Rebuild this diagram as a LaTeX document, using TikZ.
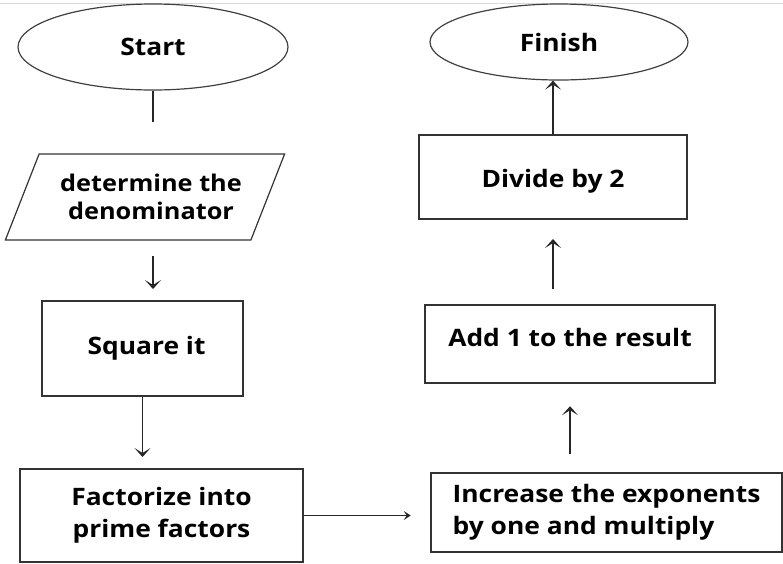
\documentclass[tikz,border=0pt]{standalone}
\usepackage{fontspec}
\setmainfont{Open Sans}[FakeStretch=1.1]
\usetikzlibrary{shapes.geometric,arrows.meta}
\tikzset{
	terminal/.style={ellipse, draw=black!75, line width=1.2pt},
	stepbox/.style={rectangle, draw=black!80, line width=2pt},
	inputbox/.style={trapezium, trapezium left angle=56, trapezium right angle=124, trapezium stretches=true, draw=black!80, line width=1.2pt},
	flow/.style={draw=black!85, line width=1.6pt, -{Stealth[length=9pt,width=16pt,inset=5pt]}}
}
\begin{document}
\begin{tikzpicture}[x=1pt, y=-1pt, every node/.style={font=\bfseries\fontsize{24}{32}\selectfont, align=center, inner sep=0pt}]
		\useasboundingbox (0,0) rectangle (783,563);
		\draw[black!15, line width=1pt] (0,3) -- (783,3);
		% left column
		\node[terminal, minimum width=270, minimum height=86] at (153,47) (start) {Start};
		\node[inputbox, minimum width=280, minimum height=86, font=\bfseries\fontsize{23}{28}\selectfont] at (145,197) (denom) {\hspace*{12pt}determine the\\\hspace*{12pt}denominator};
		\node[stepbox, minimum width=201, minimum height=95] at (142.5,348.5) (square) {\hspace*{8pt}Square it};
		\node[stepbox, minimum width=283, minimum height=93] at (161.5,515.5) (factor) {Factorize into\\prime factors};
		% right column
		\node[stepbox, line width=2.6pt, minimum width=351, minimum height=79, align=left] at (606.5,512.5) (increase) {Increase the exponents\\by one and multiply};
		\node[stepbox, line width=2.4pt, minimum width=290, minimum height=78, text depth=14pt] at (570,344) (add) {Add 1 to the result};
		\node[stepbox, minimum width=268, minimum height=84, text height=27pt] at (553,177) (divide) {Divide by 2};
		\node[terminal, minimum width=258, minimum height=76] at (559,42) (finish) {Finish};
		% connectors
		\draw[draw=black!85, line width=1.6pt, shorten >=31pt] (start) -- (start |- denom.north);
		\draw[flow, shorten <=15pt, shorten >=11pt] (start |- denom.south) -- (start |- square.north);
		\draw[flow, shorten >=11pt] (square.south) -- (square.south |- factor.north);
		\draw[flow, line width=1pt, -{Stealth[length=7pt,width=9pt,inset=3pt]}, shorten >=19pt] (factor.east) -- (factor.east -| increase.west);
		\draw[flow, shorten <=18pt, shorten >=22pt] (increase.north -| add.south) -- (add.south);
		\draw[flow, shorten <=15pt, shorten >=19pt] (add.north -| divide.south) -- (divide.south);
		\draw[flow] (divide.north) -- (divide.north |- finish.south);
\end{tikzpicture}
\end{document}
